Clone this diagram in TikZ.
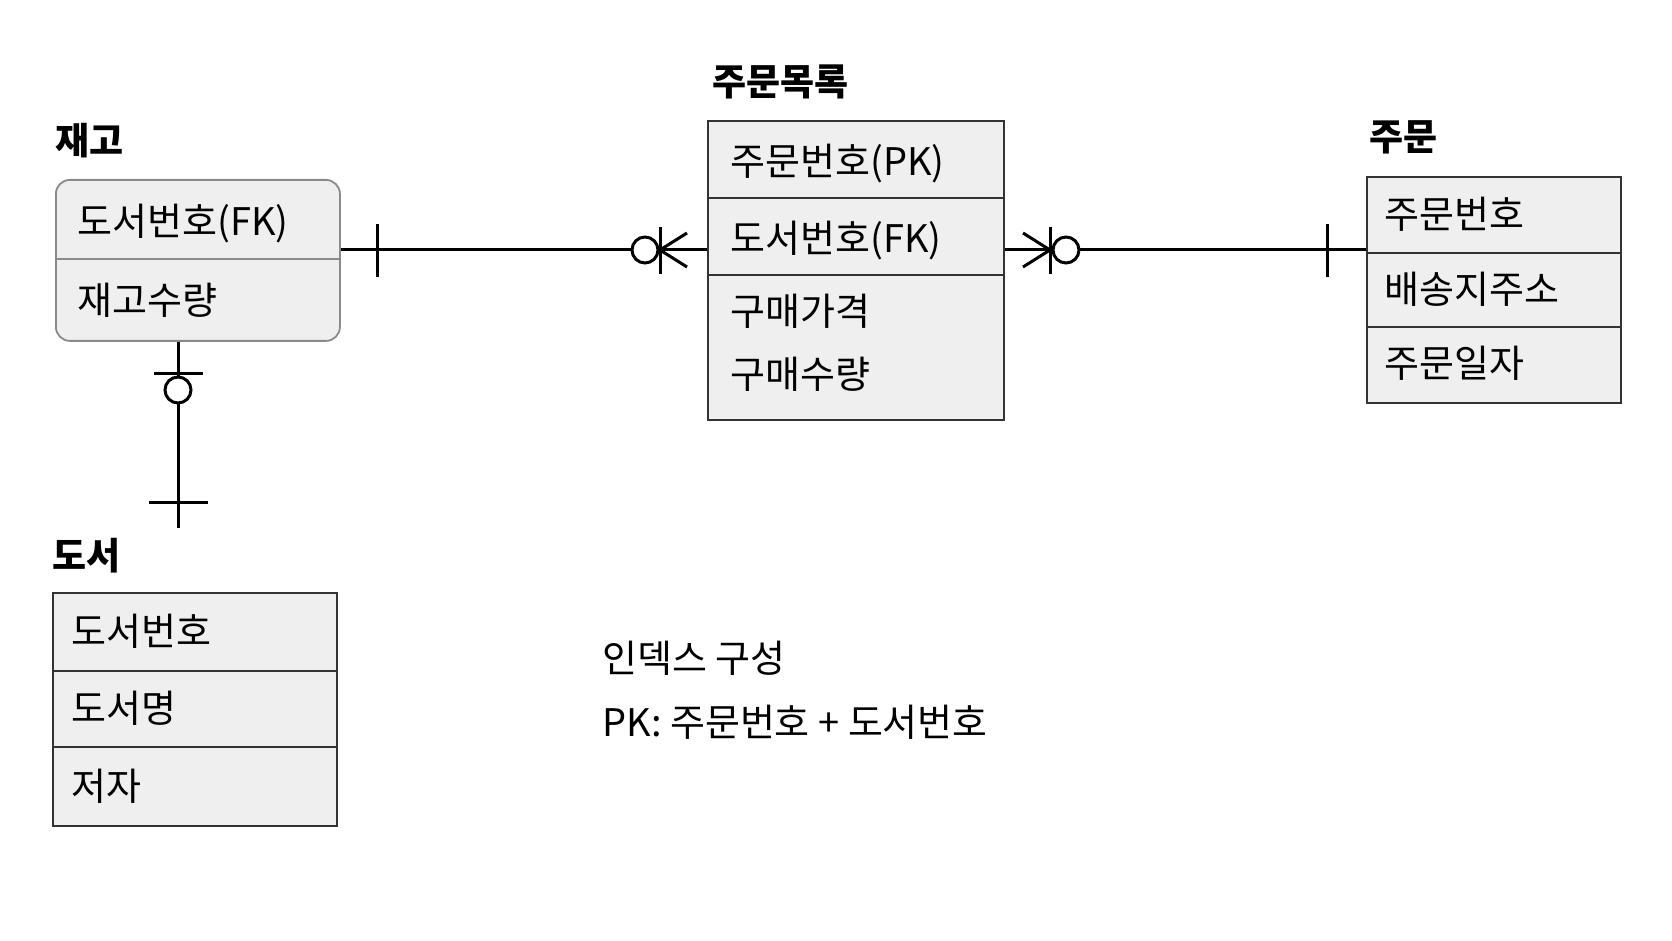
\documentclass[tikz,border=0pt]{standalone}
\usepackage{fontspec}
\setmainfont{Noto Sans CJK KR}
\usetikzlibrary{calc}
\definecolor{boxfill}{HTML}{EFEFEF}
\definecolor{boxline}{HTML}{333333}
\definecolor{softline}{HTML}{8A8A8A}
\begin{document}
\begin{tikzpicture}[x=0.5pt,y=-0.5pt,
  title/.style={anchor=west,inner sep=0pt,font=\fontsize{18.5}{20}\selectfont\bfseries},
  field/.style={anchor=north west,draw=boxline,fill=boxfill,line width=0.9pt,inner sep=0pt},
  lbl/.style={anchor=base west,inner sep=0pt,font=\fontsize{19}{22}\selectfont},
  conn/.style={line width=1.5pt,black},
  note/.style={anchor=west,inner sep=0pt,font=\fontsize{19}{22}\selectfont}]
\useasboundingbox[fill=white] (0,0) rectangle (1672,941);

% ---------- 재고 ----------
\node[title] (t-jg) at (55,141) {재고};
\node[anchor=north west,draw=softline,fill=boxfill,line width=0.9pt,rounded corners=7pt,
      minimum width=142pt,minimum height=80.5pt,inner sep=0pt] (jg) at (55,179) {};
\coordinate (jgdiv) at (55,259);
\draw[softline,line width=0.9pt] (jgdiv) -- (jgdiv -| jg.east);
\node[lbl] (jg1) at ($(jg.north west)+(22,57)$) {도서번호(FK)};
\node[lbl] (jg2) at ($(jgdiv)+(22,56)$) {재고수량};

% ---------- 주문목록 ----------
\node[title] (t-jm) at (712,82) {주문목록};
\node[field,minimum width=148pt,minimum height=38.5pt] (jm1) at (707,120) {};
\node[field,minimum width=148pt,minimum height=38.5pt] (jm2) at (707,197) {};
\node[field,minimum width=148pt,minimum height=72.5pt] (jm3) at (707,274) {};
\node[lbl] (jm1t) at ($(jm1.west)+(23,16)$) {주문번호(PK)};
\node[lbl] (jm2t) at ($(jm2.west)+(23,16)$) {도서번호(FK)};
\node[lbl] (jm3a) at ($(jm3.north west)+(23,52)$) {구매가격};
\node[lbl] (jm3b) at ($(jm3.north west)+(23,114)$) {구매수량};

% ---------- 주문 ----------
\node[title] (t-ju) at (1369,137) {주문};
\node[field,minimum width=127pt,minimum height=38pt] (ju1) at (1366,176) {};
\node[field,minimum width=127pt,minimum height=37pt] (ju2) at (1366,252) {};
\node[field,minimum width=127pt,minimum height=38pt] (ju3) at (1366,326) {};
\node[lbl] (ju1t) at ($(ju1.west)+(18,14)$) {주문번호};
\node[lbl] (ju2t) at ($(ju2.west)+(18,14)$) {배송지주소};
\node[lbl] (ju3t) at ($(ju3.west)+(18,13)$) {주문일자};

% ---------- 도서 ----------
\node[title] (t-ds) at (52,556) {도서};
\node[field,minimum width=142pt,minimum height=39pt] (ds1) at (52,592) {};
\node[field,minimum width=142pt,minimum height=38pt] (ds2) at (52,670) {};
\node[field,minimum width=142pt,minimum height=39.5pt] (ds3) at (52,746) {};
\node[lbl] (ds1t) at ($(ds1.west)+(19,14)$) {도서번호};
\node[lbl] (ds2t) at ($(ds2.west)+(19,14)$) {도서명};
\node[lbl] (ds3t) at ($(ds3.west)+(19,14)$) {저자};

% ---------- 인덱스 ----------
\node[note] (n1) at (602,658) {인덱스 구성};
\node[note] (n2) at (602,722) {PK: 주문번호 + 도서번호};

% ---------- connectors ----------
\coordinate (yl) at (0,250);
\coordinate (dend) at (178,528);

% 재고 -- 주문목록
\draw[conn] (jg.east |- yl) -- (jm2.west |- yl);
\draw[conn] (377,224) -- (377,277);
\draw[conn,fill=white] (645,250) circle (13);
\draw[conn] (660,227) -- (660,274);
\draw[conn] (687,233) -- (660,250) -- (687,267);

% 주문목록 -- 주문
\draw[conn] (jm2.east |- yl) -- (ju1.west |- yl);
\draw[conn] (1023,233) -- (1050,250) -- (1023,267);
\draw[conn] (1050,227) -- (1050,274);
\draw[conn,fill=white] (1066,250) circle (13);
\draw[conn] (1327,224) -- (1327,277);

% 재고 -- 도서
\draw[conn] (jg.south -| dend) -- (dend);
\draw[conn] (154,374) -- (203,374);
\draw[conn,fill=white] (178,390) circle (13);
\draw[conn] (149,502) -- (208,502);
\end{tikzpicture}
\end{document}
